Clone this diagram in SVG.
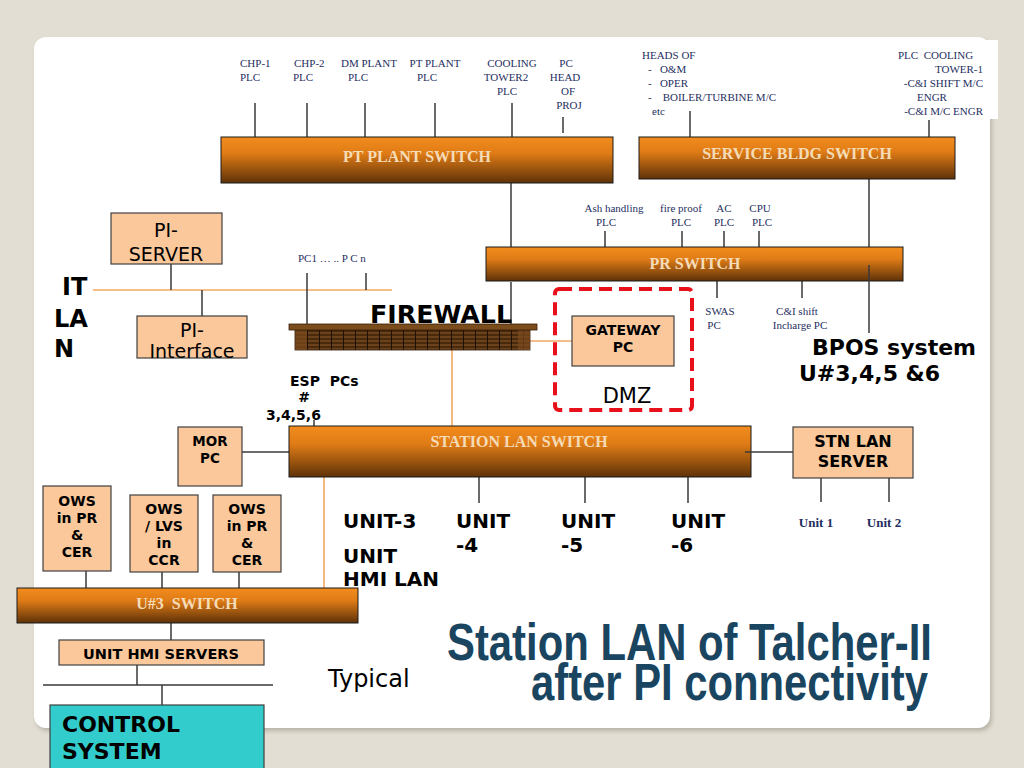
<svg xmlns="http://www.w3.org/2000/svg" width="1024" height="768" viewBox="0 0 1024 768">
<defs>
<linearGradient id="sw" x1="0" y1="0" x2="0" y2="1">
<stop offset="0" stop-color="#f28c1e"/>
<stop offset="0.35" stop-color="#e07c16"/>
<stop offset="1" stop-color="#5e3208"/>
</linearGradient>
<pattern id="brick" x="295" y="330" width="12" height="4" patternUnits="userSpaceOnUse">
<rect width="12" height="4" fill="#4a2a0c"/>
<rect y="2.5" width="12" height="1" fill="#8b5a2b"/>
<rect x="0" width="1" height="4" fill="#1e1004"/>
</pattern>
<filter id="sh" x="-5%" y="-5%" width="110%" height="110%">
<feGaussianBlur stdDeviation="2"/>
</filter>
<style>
.swr{fill:url(#sw);stroke:#1a1a1a;stroke-width:1}
.swt{font-family:"Liberation Serif",serif;font-weight:bold;font-size:16px;fill:#f5dcb8;text-anchor:middle}
.box{fill:#fac89b;stroke:#404040;stroke-width:1.2}
.lbl{font-family:"Liberation Serif",serif;font-size:11px;fill:#1f2f5f}
.b{font-family:"DejaVu Sans",Verdana,sans-serif;font-weight:bold;fill:#000}
.n{font-family:"DejaVu Sans",Verdana,sans-serif;fill:#000}
.c{text-anchor:middle}
.ln{stroke:#3a3a3a;stroke-width:1.5;fill:none}
.ol{stroke:#f2a865;stroke-width:1.6;fill:none}
</style>
</defs>
<rect width="1024" height="768" fill="#e2ded3"/>
<rect x="36" y="40" width="956" height="691" rx="12" fill="#9e978a" opacity="0.6" filter="url(#sh)"/>
<rect x="34" y="37" width="956" height="691" rx="12" fill="#ffffff"/>
<rect x="880" y="40" width="118" height="79" fill="#ffffff"/>

<g id="connectors">
<!-- PT plant drops -->
<path class="ln" d="M255 103V137M307 103V137M365 103V137M435 103V137M512 103V137M563 117V133"/>
<!-- service bldg drops -->
<path class="ln" d="M690 111V137M929 120V137"/>
<!-- PT to PR -->
<path class="ln" d="M511 183V247M511 282V324"/>
<!-- service to PR / BPOS -->
<path class="ln" d="M869 179V247"/>
<!-- PR top drops -->
<path class="ln" d="M605 231V247M682 231V247M724 231V247M759 231V247"/>
<!-- PR bottom -->
<path class="ln" d="M717 281V298M802 281V298"/>
<!-- IT LAN -->
<path class="ol" d="M93 290H392"/>
<path class="ln" d="M171 264V290M202 290V316M307 273V324M366 273V290"/>
<!-- firewall to station / gateway -->
<path class="ol" d="M452 350V426M528 341H572"/>
<!-- ESP -->
<path class="ln" d="M314 420V426"/>
<!-- MOR -->
<path class="ln" d="M242 452H289"/>
<!-- station bottom drops -->
<path class="ln" d="M479 477V503M585 477V503M688 477V503"/>
<!-- stn lan server -->
<path class="ln" d="M821 478V502M889 478V502"/>
<!-- station to U#3 -->
<path class="ol" d="M324 477V588"/>
<!-- OWS -->
<path class="ln" d="M86 571V588M162 572V588M239 572V588"/>
<!-- U#3 to HMI servers -->
<path class="ln" d="M171 623V640M137 665V685M43 685H273M162 685V705"/>
</g>

<g id="pt-plant-labels" class="lbl">
<text x="240" y="67">CHP-1</text><text x="240" y="81">PLC</text>
<text x="294" y="67">CHP-2</text><text x="293" y="81">PLC</text>
<text x="369" y="67" class="c" text-anchor="middle">DM PLANT</text><text x="358" y="81" text-anchor="middle">PLC</text>
<text x="435" y="67" text-anchor="middle">PT PLANT</text><text x="427" y="81" text-anchor="middle">PLC</text>
<text x="512" y="67" text-anchor="middle">COOLING</text><text x="506" y="81" text-anchor="middle">TOWER2</text><text x="507" y="95" text-anchor="middle">PLC</text>
<text x="566" y="67" text-anchor="middle">PC</text><text x="565" y="81" text-anchor="middle">HEAD</text><text x="568" y="95" text-anchor="middle">OF</text><text x="569" y="109" text-anchor="middle">PROJ</text>
</g>

<g id="service-labels" class="lbl">
<text x="642" y="59">HEADS OF</text>
<text x="648" y="73" xml:space="preserve">-   O&amp;M</text>
<text x="648" y="87" xml:space="preserve">-   OPER</text>
<text x="648" y="101" xml:space="preserve">-    BOILER/TURBINE M/C</text>
<text x="652" y="115">etc</text>
<text x="898" y="59" xml:space="preserve">PLC  COOLING</text>
<text x="983" y="73" text-anchor="end">TOWER-1</text>
<text x="983" y="87" text-anchor="end">-C&amp;I SHIFT M/C</text>
<text x="932" y="101" text-anchor="middle">ENGR</text>
<text x="983" y="115" text-anchor="end">-C&amp;I M/C ENGR</text>
</g>

<g id="pt-plant-switch">
<rect class="swr" x="221" y="137" width="392" height="46"/>
<text class="swt" x="417" y="162">PT PLANT SWITCH</text>
</g>

<g id="service-bldg-switch">
<rect class="swr" x="639" y="137" width="316" height="42"/>
<text class="swt" x="797" y="159">SERVICE BLDG SWITCH</text>
</g>

<g id="pr-labels" class="lbl" text-anchor="middle">
<text x="614" y="212">Ash handling</text><text x="606" y="226">PLC</text>
<text x="681" y="212">fire proof</text><text x="681" y="226">PLC</text>
<text x="724" y="212">AC</text><text x="724" y="226">PLC</text>
<text x="760" y="212">CPU</text><text x="762" y="226">PLC</text>
<text x="720" y="315">SWAS</text><text x="714" y="329">PC</text>
<text x="797" y="315">C&amp;I shift</text><text x="800" y="329">Incharge PC</text>
</g>

<g id="pr-switch">
<rect class="swr" x="486" y="247" width="417" height="34"/>
<text class="swt" x="695" y="269">PR SWITCH</text>
<path class="ln" d="M869 265V333"/>
</g>

<g id="bpos">
<text class="b" x="812" y="355" font-size="22">BPOS system</text>
<text class="b" x="799" y="381" font-size="22">U#3,4,5 &amp;6</text>
</g>

<g id="pi-server">
<rect class="box" x="111" y="213" width="111" height="51"/>
<text class="n c" x="166" y="237" font-size="19">PI-</text>
<text class="n c" x="166" y="261" font-size="19">SERVER</text>
</g>

<g id="pi-interface">
<rect class="box" x="137" y="316" width="110" height="42"/>
<text class="n c" x="192" y="337" font-size="19">PI-</text>
<text class="n c" x="192" y="358" font-size="19">Interface</text>
</g>

<g id="it-lan">
<text class="b" x="62" y="295" font-size="24">IT</text>
<text class="b" x="54" y="327" font-size="24">LA</text>
<text class="b" x="54" y="357" font-size="24">N</text>
</g>

<g id="pcs">
<text class="lbl" x="298" y="262" font-size="12">PC1 … .. P C n</text>
</g>

<g id="firewall">
<rect x="295" y="330" width="235" height="20" fill="url(#brick)" stroke="#2a1606" stroke-width="0.8"/>
<rect x="295" y="330" width="12" height="20" fill="#7a4a1c" opacity="0.7"/>
<rect x="518" y="330" width="12" height="20" fill="#7a4a1c" opacity="0.7"/>
<rect x="289" y="324" width="248" height="6" fill="#7b4c1c" stroke="#3a2008" stroke-width="0.8"/>
<text class="b" x="370" y="323" font-size="25" textLength="142" lengthAdjust="spacingAndGlyphs">FIREWALL</text>
</g>

<g id="dmz">
<rect x="555" y="289" width="137" height="121" rx="4" fill="none" stroke="#e8101a" stroke-width="4" stroke-dasharray="13 7"/>
<text class="n c" x="627" y="403" font-size="21">DMZ</text>
</g>

<g id="gateway-pc">
<rect class="box" x="572" y="316" width="102" height="50"/>
<text class="b c" x="623" y="335" font-size="14">GATEWAY</text>
<text class="b c" x="623" y="352" font-size="14">PC</text>
</g>

<g id="esp-pcs">
<text class="b" x="290" y="386" font-size="14" xml:space="preserve">ESP  PCs</text>
<text class="b c" x="304" y="402" font-size="14">#</text>
<text class="b" x="266" y="420" font-size="14">3,4,5,6</text>
</g>

<g id="station-lan-switch">
<rect class="swr" x="289" y="426" width="462" height="51"/>
<text class="swt" x="519" y="447">STATION LAN SWITCH</text>
<path class="ln" d="M745 452H793"/>
</g>

<g id="mor-pc">
<rect class="box" x="178" y="427" width="64" height="59"/>
<text class="b c" x="210" y="446" font-size="13.5">MOR</text>
<text class="b c" x="210" y="463" font-size="13.5">PC</text>
</g>

<g id="stn-lan-server">
<rect class="box" x="793" y="427" width="120" height="51"/>
<text class="b c" x="853" y="447" font-size="16">STN LAN</text>
<text class="b c" x="853" y="467" font-size="16">SERVER</text>
</g>

<g id="stn-units" class="lbl" font-weight="bold" font-size="13" text-anchor="middle">
<text x="816" y="527" font-size="13">Unit 1</text>
<text x="884" y="527" font-size="13">Unit 2</text>
</g>

<g id="units">
<text class="b" x="343" y="528" font-size="20">UNIT-3</text>
<text class="b" x="343" y="563" font-size="20">UNIT</text>
<text class="b" x="343" y="586" font-size="20">HMI LAN</text>
<text class="b" x="456" y="528" font-size="20">UNIT</text><text class="b" x="456" y="552" font-size="20">-4</text>
<text class="b" x="561" y="528" font-size="20">UNIT</text><text class="b" x="561" y="552" font-size="20">-5</text>
<text class="b" x="671" y="528" font-size="20">UNIT</text><text class="b" x="671" y="552" font-size="20">-6</text>
</g>

<g id="ows-1">
<rect class="box" x="43" y="486" width="68" height="85"/>
<text class="b c" x="77" y="506" font-size="14">OWS</text>
<text class="b c" x="77" y="523" font-size="14">in PR</text>
<text class="b c" x="77" y="540" font-size="14">&amp;</text>
<text class="b c" x="77" y="557" font-size="14">CER</text>
</g>
<g id="ows-2">
<rect class="box" x="130" y="495" width="68" height="77"/>
<text class="b c" x="164" y="514" font-size="14">OWS</text>
<text class="b c" x="164" y="531" font-size="14">/ LVS</text>
<text class="b c" x="164" y="548" font-size="14">in</text>
<text class="b c" x="164" y="565" font-size="14">CCR</text>
</g>
<g id="ows-3">
<rect class="box" x="213" y="495" width="68" height="77"/>
<text class="b c" x="247" y="514" font-size="14">OWS</text>
<text class="b c" x="247" y="531" font-size="14">in PR</text>
<text class="b c" x="247" y="548" font-size="14">&amp;</text>
<text class="b c" x="247" y="565" font-size="14">CER</text>
</g>

<g id="u3-switch">
<rect class="swr" x="17" y="588" width="341" height="35"/>
<text class="swt" x="187" y="609" xml:space="preserve">U#3  SWITCH</text>
</g>

<g id="unit-hmi-servers">
<rect class="box" x="59" y="640" width="205" height="25"/>
<text class="b c" x="161" y="659" font-size="13.5" textLength="156" lengthAdjust="spacingAndGlyphs">UNIT HMI SERVERS</text>
</g>

<g id="control-system">
<rect x="50" y="705" width="214" height="70" fill="#33cccc" stroke="#404040" stroke-width="1.2"/>
<text class="b" x="62" y="732" font-size="22">CONTROL</text>
<text class="b" x="62" y="759" font-size="22">SYSTEM</text>
</g>

<g id="typical">
<text class="n" x="328" y="687" font-size="24">Typical</text>
</g>

<g id="title" font-family="'Liberation Sans',Arial,sans-serif" font-weight="bold" fill="#1a4560">
<text x="447" y="660" font-size="52" textLength="485" lengthAdjust="spacingAndGlyphs">Station LAN of Talcher-II</text>
<text x="531" y="700" font-size="52" textLength="397" lengthAdjust="spacingAndGlyphs">after PI connectivity</text>
</g>
</svg>
